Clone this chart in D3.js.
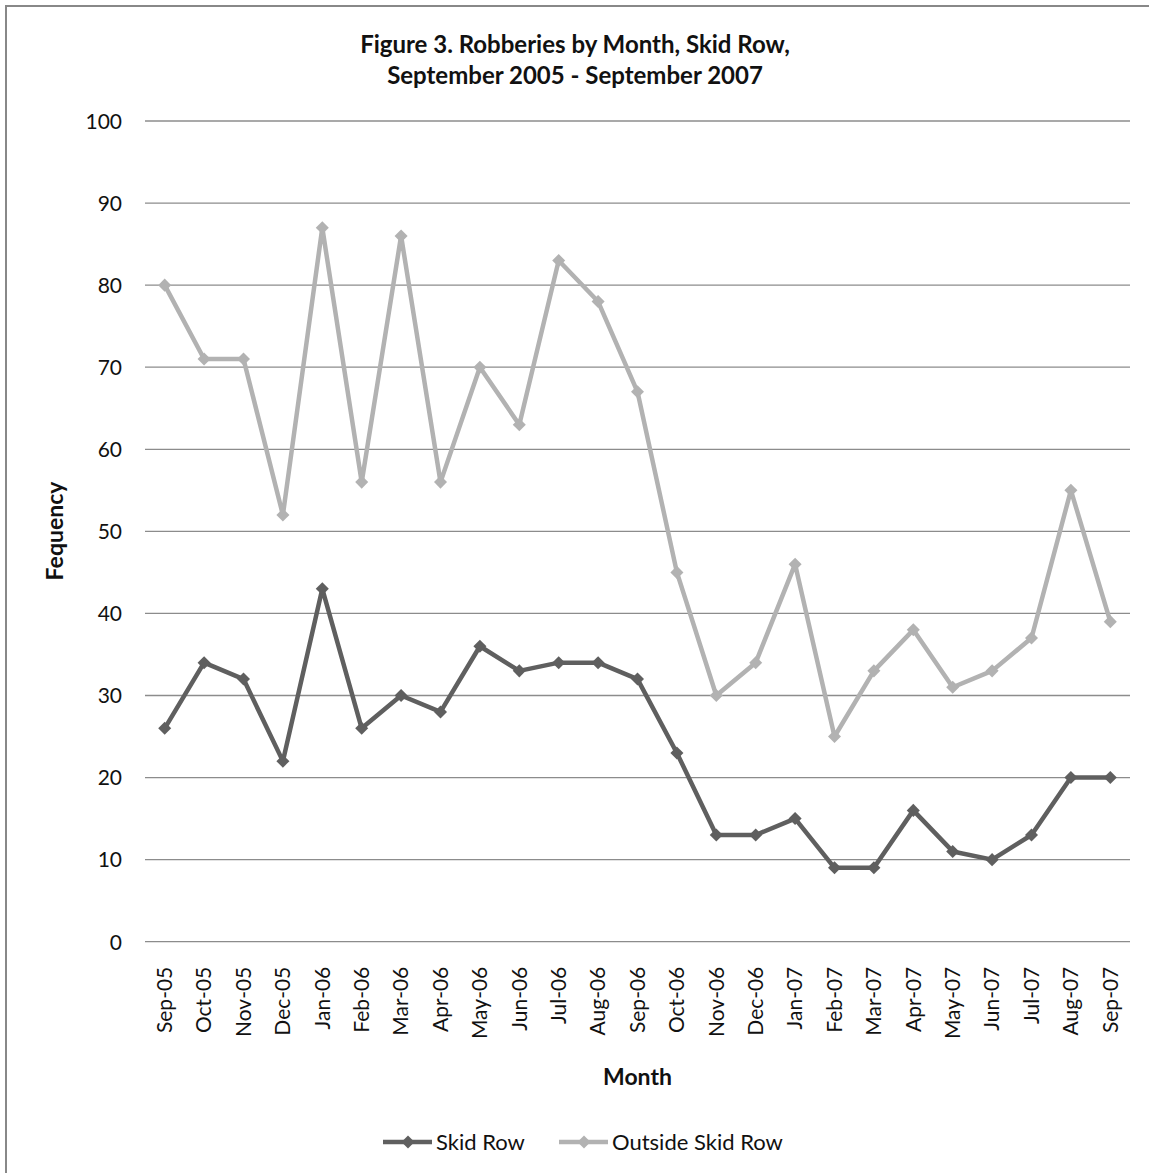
<!DOCTYPE html>
<html><head><meta charset="utf-8">
<script src="https://cdn.jsdelivr.net/npm/d3@7"></script>
<style>body{margin:0;background:#fff}svg{display:block}text{font-family:Lato,"Open Sans",sans-serif;fill:#111}</style>
</head><body><div id="c"></div>
<script>
const months = ["Sep-05","Oct-05","Nov-05","Dec-05","Jan-06","Feb-06","Mar-06","Apr-06","May-06","Jun-06","Jul-06","Aug-06","Sep-06","Oct-06","Nov-06","Dec-06","Jan-07","Feb-07","Mar-07","Apr-07","May-07","Jun-07","Jul-07","Aug-07","Sep-07"];
const skidRow = [26,34,32,22,43,26,30,28,36,33,34,34,32,23,13,13,15,9,9,16,11,10,13,20,20];
const outsideSkidRow = [80,71,71,52,87,56,86,56,70,63,83,78,67,45,30,34,46,25,33,38,31,33,37,55,39];
const yTicks = [0,10,20,30,40,50,60,70,80,90,100];
const seriesNames = ["Skid Row","Outside Skid Row"];
const seriesColors = ["#5f5f5f","#b2b2b2"];

const W = 1149, H = 1173;
const svg = d3.select("#c").append("svg").attr("width", W).attr("height", H);
svg.append("rect").attr("x",6).attr("y",6).attr("width",W+10).attr("height",H+10)
  .attr("fill","#fff").attr("stroke","#888").attr("stroke-width",2);

const L = 145, R = 1130, T = 121, B = 941.7;
const x = d3.scaleBand().domain(months).range([L, R]).padding(0);
const y = d3.scaleLinear().domain([0,100]).range([B, T]);

// gridlines
svg.append("g").selectAll("line").data(yTicks).join("line")
  .attr("x1", L).attr("x2", R).attr("y1", d=>y(d)).attr("y2", d=>y(d))
  .attr("stroke", "#8c8c8c").attr("stroke-width", 1.3);

// y axis labels
const yAxis = d3.axisLeft(y).tickValues(yTicks).tickSize(0).tickPadding(0);
const gy = svg.append("g").attr("transform", `translate(${L-23},0)`).call(yAxis);
gy.select(".domain").remove();
gy.selectAll("text").style("font-size","21px").attr("fill","#111").attr("dy","0.35em");

// x axis labels
const xAxis = d3.axisBottom(x).tickSize(0);
const gx = svg.append("g").attr("transform", `translate(0,${B})`).call(xAxis);
gx.select(".domain").remove();
gx.selectAll("text").style("font-size","21px").attr("fill","#111")
  .attr("transform","rotate(-90)").attr("text-anchor","end")
  .attr("x",-25).attr("y",0).attr("dy","0.35em");

// lines
const data = [skidRow, outsideSkidRow];
const line = d3.line().x((d,i)=>x(months[i])+x.bandwidth()/2).y(d=>y(d));
const diamond = d3.symbol().type(d3.symbolSquare).size(85);
[1,0].forEach(s=>{
  const g = svg.append("g");
  g.append("path").attr("d", line(data[s])).attr("fill","none")
    .attr("stroke", seriesColors[s]).attr("stroke-width", 4.5).attr("stroke-linejoin","round");
  g.selectAll("path.m").data(data[s]).join("path").attr("class","m")
    .attr("d", diamond).attr("fill", seriesColors[s])
    .attr("transform",(d,i)=>`translate(${x(months[i])+x.bandwidth()/2},${y(d)}) rotate(45)`);
});

// titles
const title = svg.append("text").attr("x", 575).attr("text-anchor","middle")
  .style("font-size","24px").style("font-weight","bold");
title.append("tspan").attr("x",575).attr("y",53).text("Figure 3. Robberies by Month, Skid Row,");
title.append("tspan").attr("x",575).attr("y",84).text("September 2005 - September 2007");

svg.append("text").attr("transform","translate(63,531) rotate(-90)").attr("text-anchor","middle")
  .style("font-size","23px").style("font-weight","bold").text("Fequency");
svg.append("text").attr("x",(L+R)/2).attr("y",1085).attr("text-anchor","middle")
  .style("font-size","23px").style("font-weight","bold").text("Month");

// legend
const legX = [383, 559];
seriesNames.forEach((n,s)=>{
  const g = svg.append("g").attr("transform",`translate(${legX[s]},1142)`);
  g.append("line").attr("x1",0).attr("x2",49).attr("stroke",seriesColors[s]).attr("stroke-width",4.5);
  g.append("path").attr("d",diamond).attr("fill",seriesColors[s]).attr("transform","translate(25,0) rotate(45)");
  g.append("text").attr("x",53).attr("dy","0.35em").style("font-size","22px").text(n);
});
</script></body></html>
